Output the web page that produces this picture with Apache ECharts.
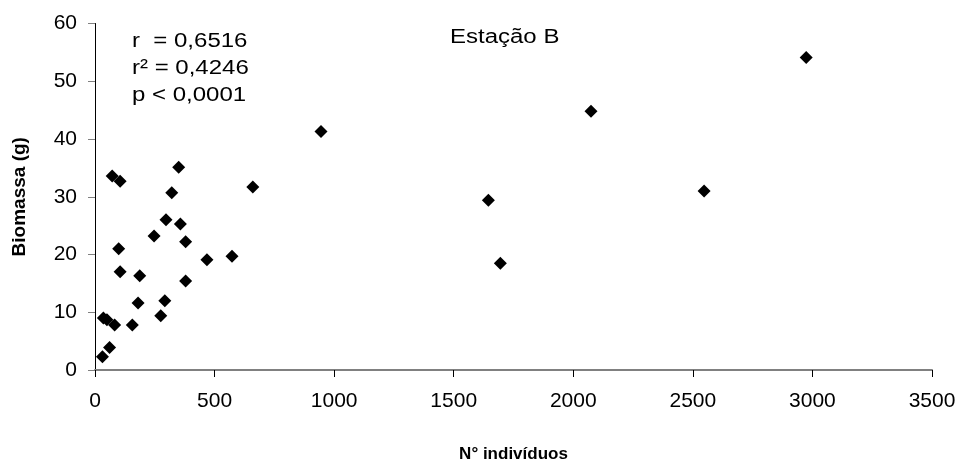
<!DOCTYPE html>
<html>
<head>
<meta charset="utf-8">
<script src="https://cdn.jsdelivr.net/npm/echarts@6/dist/echarts.min.js"></script>
<style>
  html, body { margin: 0; padding: 0; background: #fff; }
  #chart { width: 961px; height: 468px; }
</style>
</head>
<body>
<div id="chart"></div>
<script>
// Estação B: number of individuals vs. biomass per sample
var individuos = [31, 61, 35, 50, 82, 156, 180, 275, 292, 187, 105, 99, 247, 297, 357,
                  379, 379, 468, 573, 321, 350, 72, 105, 660, 945, 1645, 1695, 2074, 2547, 2974];
var biomassa  = [2.3, 3.9, 9.0, 8.7, 7.8, 7.8, 11.6, 9.4, 12.0, 16.3, 17.0, 21.0, 23.2, 26.0, 25.3,
                  22.2, 15.4, 19.1, 19.7, 30.7, 35.1, 33.6, 32.7, 31.7, 41.3, 29.4, 18.5, 44.8, 31.0, 54.1];

var xTicks = [0, 500, 1000, 1500, 2000, 2500, 3000, 3500];
var yTicks = [0, 10, 20, 30, 40, 50, 60];
var statLines = ['r  = 0,6516', 'r\u00B2 = 0,4246', 'p < 0,0001'];
var stationName = 'Esta\u00E7\u00E3o B';

var FONT = '"Liberation Sans", Arial, sans-serif';

var points = individuos.map(function (x, i) { return [x, biomassa[i]]; });

var chart = echarts.init(document.getElementById('chart'), null, { renderer: 'canvas' });

chart.setOption({
  backgroundColor: '#ffffff',
  animation: false,
  grid: { left: 95, right: 29, top: 23.5, bottom: 92, containLabel: false },
  xAxis: {
    type: 'value',
    min: xTicks[0],
    max: xTicks[xTicks.length - 1],
    interval: 500,
    name: 'N\u00B0 indiv\u00EDduos',
    nameLocation: 'middle',
    nameGap: 76,
    nameTextStyle: { fontFamily: FONT, fontSize: 17, fontWeight: 'bold', color: '#000' },
    axisLine: { show: true, onZero: false, lineStyle: { color: '#808080', width: 2 } },
    axisTick: { show: true, inside: false, length: 7, lineStyle: { color: '#000', width: 1 } },
    axisLabel: {
      margin: 21, fontFamily: FONT, fontSize: 21, color: '#000',
      formatter: function (v) { return String(v); }
    },
    splitLine: { show: false }
  },
  yAxis: {
    type: 'value',
    min: yTicks[0],
    max: yTicks[yTicks.length - 1],
    interval: 10,
    name: 'Biomassa (g)',
    nameLocation: 'middle',
    nameGap: 66,
    nameTextStyle: { fontFamily: FONT, fontSize: 19, fontWeight: 'bold', color: '#000' },
    axisLine: { show: true, lineStyle: { color: '#000', width: 1 } },
    axisTick: { show: true, inside: false, length: 7, lineStyle: { color: '#808080', width: 1 } },
    axisLabel: {
      margin: 18, fontFamily: FONT, fontSize: 21, color: '#000',
      formatter: function (v) { return String(v); }
    },
    splitLine: { show: false }
  },
  graphic: [
    {
      type: 'text',
      left: 132,
      top: 28,
      scaleX: 1.2,
      style: {
        text: statLines.join('\n'),
        font: '20px ' + FONT,
        fill: '#000',
        lineHeight: 27
      }
    },
    {
      type: 'text',
      left: 450,
      top: 27,
      scaleX: 1.2,
      style: {
        text: stationName,
        font: '20px ' + FONT,
        fill: '#000'
      }
    }
  ],
  series: [{
    type: 'scatter',
    data: points,
    symbol: 'diamond',
    symbolSize: 13,
    itemStyle: { color: '#000', opacity: 1 }
  }]
});
</script>
</body>
</html>
